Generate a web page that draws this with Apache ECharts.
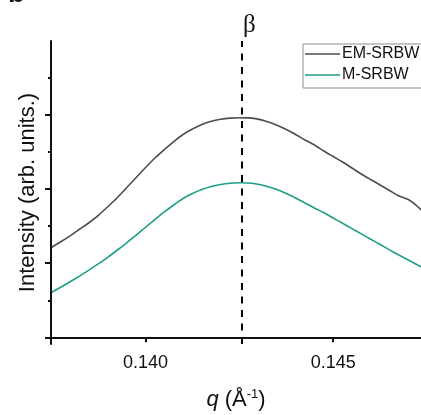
<!DOCTYPE html>
<html>
<head>
<meta charset="utf-8">
<script src="https://cdn.jsdelivr.net/npm/echarts@6/dist/echarts.min.js"></script>
<style>
html,body{margin:0;padding:0;background:#fff;}
#chart{width:421px;height:415px;}
</style>
</head>
<body>
<div id="chart"></div>
<script>
const qValues = [0.13750, 0.13775, 0.13800, 0.13825, 0.13850, 0.13875, 0.13900, 0.13925, 0.13950, 0.13975,
  0.14000, 0.14025, 0.14050, 0.14075, 0.14100, 0.14125, 0.14150, 0.14175, 0.14200, 0.14225,
  0.14250, 0.14275, 0.14300, 0.14325, 0.14350, 0.14375, 0.14400, 0.14425, 0.14450, 0.14475,
  0.14500, 0.14525, 0.14550, 0.14575, 0.14600, 0.14625, 0.14650, 0.14675, 0.14700, 0.14725, 0.14750];
const emSrbw = [1.216, 1.293, 1.374, 1.462, 1.550, 1.651, 1.766, 1.887, 2.022, 2.157,
  2.292, 2.421, 2.535, 2.643, 2.738, 2.812, 2.873, 2.916, 2.943, 2.959,
  2.965, 2.962, 2.945, 2.909, 2.862, 2.805, 2.738, 2.664, 2.596, 2.515,
  2.441, 2.367, 2.286, 2.205, 2.130, 2.056, 1.982, 1.908, 1.860, 1.766, 1.638];
const mSrbw = [0.609, 0.679, 0.753, 0.830, 0.911, 0.996, 1.084, 1.179, 1.276, 1.381,
  1.486, 1.590, 1.692, 1.786, 1.874, 1.941, 1.995, 2.036, 2.063, 2.080,
  2.087, 2.083, 2.066, 2.036, 1.995, 1.941, 1.881, 1.813, 1.746, 1.681,
  1.611, 1.539, 1.468, 1.396, 1.324, 1.253, 1.181, 1.111, 1.044, 0.976, 0.909];
const seriesNames = ['EM-SRBW', 'M-SRBW'];
const xTickValues = [0.140, 0.145];
const yMajorTicks = [0, 1, 2, 3];
const yMinorTicks = [0.5, 1.5, 2.5, 3.5];
const betaQ = 0.14255;
const betaLabel = '\u03b2';
const panelLabel = 'b';

const X_MIN = 0.13748, X_MAX = 0.14734, Y_MIN = -0.09, Y_MAX = 4.0;
const FONT = '"Liberation Sans", Arial, sans-serif';
const AX = '#111';
const GRAY = '#4d4d4d', TEAL = '#1e9e88';

const chart = echarts.init(document.getElementById('chart'), null, {renderer: 'canvas'});
const zip = (xs, ys) => xs.map((x, i) => [x, ys[i]]);

chart.setOption({
  animation: false,
  backgroundColor: '#fff',
  grid: {left: 51, top: 41, right: 0, bottom: 71, containLabel: false, outerBoundsMode: 'none'},
  legend: {
    data: seriesNames.map(n => ({name: n, icon: 'rect'})),
    orient: 'vertical',
    left: 303, top: 44,
    padding: [2, 80, 5, 2],
    borderColor: '#8c8c8c', borderWidth: 1,
    backgroundColor: '#fff',
    itemWidth: 35, itemHeight: 1.5, itemGap: 5,
    textStyle: {fontFamily: FONT, fontSize: 16, lineHeight: 14, color: '#111', padding: [0,0,0,-3]}
  },
  xAxis: [{
    type: 'value', min: X_MIN, max: X_MAX, position: 'bottom',
    axisLine: {show: true, lineStyle: {color: AX, width: 2}},
    axisTick: {show: true, inside: false, length: 5, customValues: xTickValues, lineStyle: {color: AX, width: 2}},
    axisLabel: {show: true, customValues: xTickValues, margin: 10, fontFamily: FONT, fontSize: 18, lineHeight: 18, color: '#111',
      formatter: v => v.toFixed(3)},
    splitLine: {show: false},
    name: '{i|q} ({n|Å}{s|-1}{n|)}',
    nameLocation: 'middle', nameGap: 44,
    nameTextStyle: {fontFamily: FONT, fontSize: 22, lineHeight: 24, color: '#111',
      rich: {
        i: {fontFamily: FONT, fontSize: 22, lineHeight: 24, fontStyle: 'italic', color: '#111'},
        n: {fontFamily: FONT, fontSize: 22, lineHeight: 24, color: '#111'},
        s: {fontFamily: FONT, fontSize: 13, lineHeight: 24, color: '#111', verticalAlign: 'top'}
      }}
  }, {
    type: 'value', min: X_MIN, max: X_MAX, position: 'top',
    axisLine: {show: true, lineStyle: {color: AX, width: 2}},
    axisTick: {show: false}, axisLabel: {show: false}, splitLine: {show: false}
  }],
  yAxis: [{
    type: 'value', min: Y_MIN, max: Y_MAX, position: 'left',
    axisLine: {show: true, lineStyle: {color: AX, width: 2}},
    axisTick: {show: true, inside: false, length: 6, customValues: yMajorTicks, lineStyle: {color: AX, width: 2}},
    axisLabel: {show: false},
    splitLine: {show: false},
    name: 'Intensity (arb. units.)',
    nameLocation: 'middle', nameGap: 11, nameRotate: 90,
    nameTextStyle: {fontFamily: FONT, fontSize: 22, lineHeight: 24, color: '#111'}
  }, {
    type: 'value', min: Y_MIN, max: Y_MAX, position: 'left',
    axisLine: {show: false},
    axisTick: {show: true, inside: false, length: 3, customValues: yMinorTicks, lineStyle: {color: AX, width: 2}},
    axisLabel: {show: false},
    splitLine: {show: false}
  }],
  series: [{
    name: seriesNames[0], type: 'line', xAxisIndex: 0, yAxisIndex: 0,
    data: zip(qValues, emSrbw), symbol: 'none', smooth: 0.2, clip: true,
    lineStyle: {color: GRAY, width: 1.6}, itemStyle: {color: GRAY},
    markLine: {
      silent: true, symbol: ['none', 'none'], label: {show: false},
      lineStyle: {color: '#000', width: 2, type: [7, 6.5]},
      data: [[{coord: [betaQ, Y_MIN]}, {coord: [betaQ, Y_MAX]}]]
    }
  }, {
    name: seriesNames[1], type: 'line', xAxisIndex: 0, yAxisIndex: 0,
    data: zip(qValues, mSrbw), symbol: 'none', smooth: 0.2, clip: true,
    lineStyle: {color: TEAL, width: 1.6}, itemStyle: {color: TEAL}
  }],
  graphic: [{
    type: 'text', left: 243, top: 13,
    style: {text: betaLabel, fontFamily: '"Liberation Serif", "DejaVu Serif", serif', fontSize: 25, fill: '#111'}
  }, {
    type: 'text', left: 8, top: -20,
    style: {text: panelLabel, fontFamily: FONT, fontWeight: 'bold', fontSize: 28, fill: '#111'}
  }]
});
</script>
</body>
</html>
